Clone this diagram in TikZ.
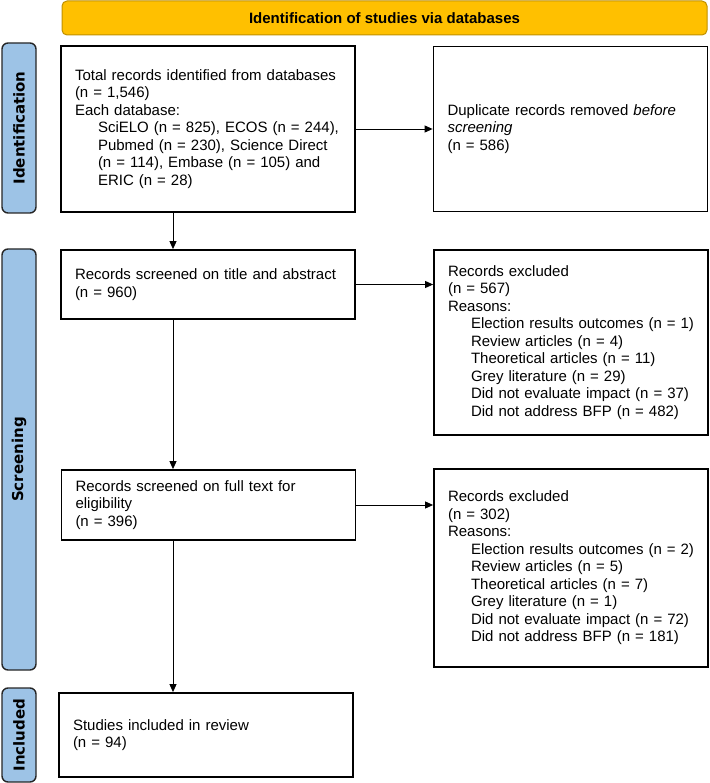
\documentclass[tikz,border=0pt]{standalone}
\usepackage{fontspec}
\setmainfont{Liberation Sans}
\newfontfamily\phasefont{DejaVu Sans}
\usepackage{tikz}
\usetikzlibrary{positioning,arrows.meta}
\usepackage{xcolor}
\definecolor{headgold}{HTML}{FFC000}
\definecolor{headrim}{HTML}{BF9000}
\definecolor{phaseblue}{HTML}{9DC3E6}
\newcommand{\reason}[1]{\mbox{\hspace*{23pt}#1}}

\begin{document}
\begin{tikzpicture}[x=1pt, y=-1pt,
      every node/.style={align=left, font=\fontsize{15}{17.5}\selectfont},
      box/.style={draw, line width=1.8pt, rectangle, inner xsep=14pt, inner ysep=0pt},
      leftbox/.style={box, text width=266pt},
      rightbox/.style={box, text width=246pt},
      phase/.style={draw=black!85, line width=1.4pt, fill=phaseblue, rounded corners=6pt,
          rotate=90, minimum height=34pt, inner sep=0pt, align=center,
          font=\fontsize{15}{16}\selectfont\phasefont\bfseries},
      header/.style={draw=headrim, line width=1pt, fill=headgold, rounded corners=5pt,
          minimum width=645pt, minimum height=34pt, align=center,
          font=\fontsize{15}{17}\selectfont\bfseries},
      arr/.style={-{Triangle[length=8pt,width=7pt]}, line width=0.9pt}
    ]
    \useasboundingbox (0,0) rectangle (709,783);

    \node[header] (head) at (384.5,18) {Identification of studies via databases};

    \node[phase, minimum width=170pt] (idbar) at (19,128) {Identification};
    \node[phase, minimum width=421pt] (scbar) at (19,459.5) {Screening};
    \node[phase, minimum width=94pt] (inbar) at (19,735) {Included};

    \node[leftbox, minimum height=166pt] (total) at (208,129) {Total records identified from databases\\
        (n = 1,546)\\
        Each database:\\
        \reason{SciELO (n = 825), ECOS (n = 244),}\\
        \reason{Pubmed (n = 230), Science Direct}\\
        \reason{(n = 114), Embase (n = 105) and}\\
        \reason{ERIC (n = 28)}};
    \node[rightbox, minimum height=165pt] (dupl) at (570.5,129) {Duplicate records removed \textit{before}\\
        \textit{screening}\\
        (n = 586)};

    \node[leftbox, minimum height=69pt] (screened) at (208,284.5) {Records screened on title and abstract\\
        (n = 960)};
    \node[rightbox, minimum height=185pt] (excla) at (571,342.5) {Records excluded\\
        (n = 567)\\
        Reasons:\\
        \reason{Election results outcomes (n = 1)}\\
        \reason{Review articles (n = 4)}\\
        \reason{Theoretical articles (n = 11)}\\
        \reason{Grey literature (n = 29)}\\
        \reason{Did not evaluate impact (n = 37)}\\
        \reason{Did not address BFP (n = 482)}};

    \node[leftbox, minimum height=70pt] (fulltext) at (208.5,505) {Records screened on full text for\\
        eligibility\\
        (n = 396)};
    \node[rightbox, minimum height=198pt] (exclb) at (571,568) {Records excluded\\
        (n = 302)\\
        Reasons:\\
        \reason{Election results outcomes (n = 2)}\\
        \reason{Review articles (n = 5)}\\
        \reason{Theoretical articles (n = 7)}\\
        \reason{Grey literature (n = 1)}\\
        \reason{Did not evaluate impact (n = 72)}\\
        \reason{Did not address BFP (n = 181)}};

    \node[leftbox, minimum height=84pt] (included) at (206,735) {Studies included in review\\
        (n = 94)};

    \draw[arr] (total) -- (dupl);
    \draw[arr] (screened.east) -- (screened.east -| excla.west);
    \draw[arr] (fulltext.east) -- (fulltext.east -| exclb.west);
    \draw[arr] ([xshift=-35pt]total.south) -- ([xshift=-35pt]total.south |- screened.north);
    \draw[arr] ([xshift=-35pt]screened.south) -- ([xshift=-35pt]screened.south |- fulltext.north);
    \draw[arr] ([xshift=-35.5pt]fulltext.south) -- ([xshift=-35.5pt]fulltext.south |- included.north);
\end{tikzpicture}
\end{document}
